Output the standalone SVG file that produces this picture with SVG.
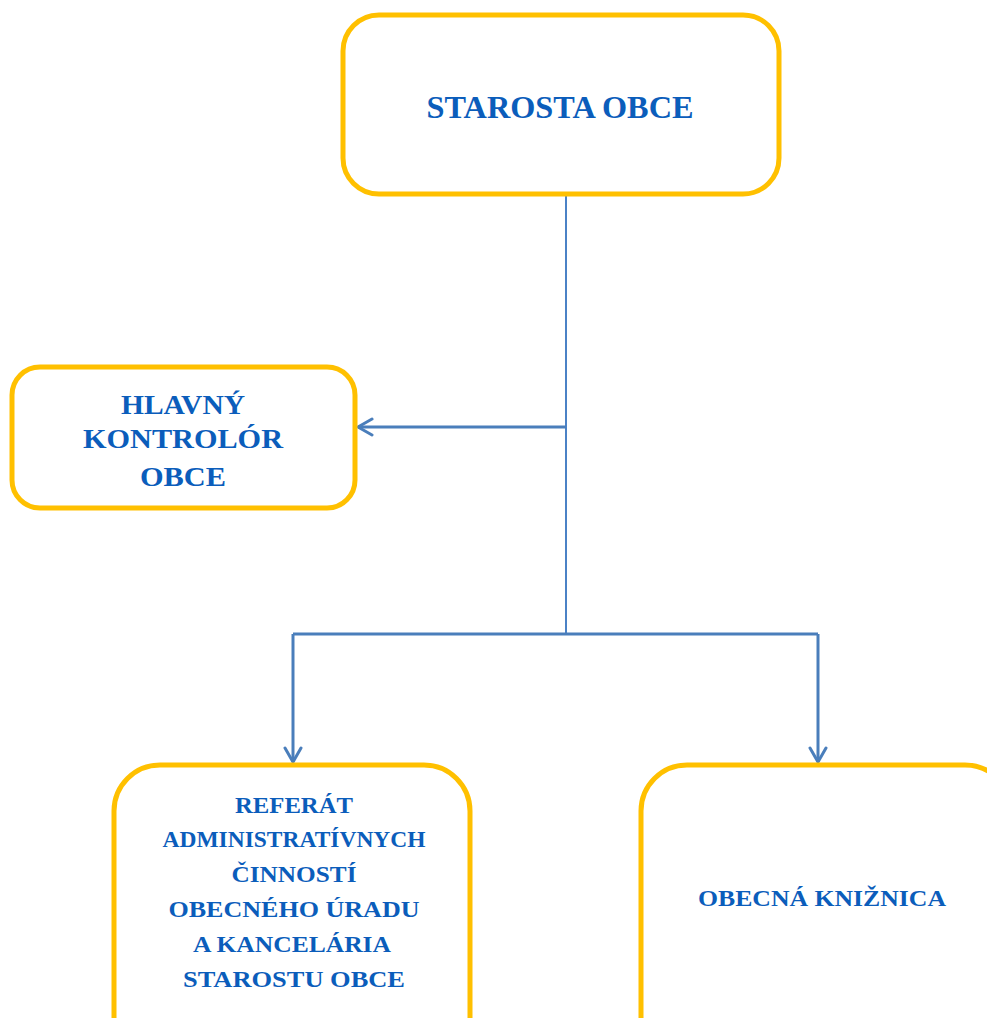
<svg xmlns="http://www.w3.org/2000/svg" width="987" height="1018" viewBox="0 0 987 1018">
<style>
.box{fill:#fff;stroke:#FFC000;stroke-width:5}
.t{font-family:"Liberation Serif","Times New Roman",serif;font-weight:bold;fill:#0B5DBB;text-anchor:middle}
.ln{fill:none;stroke:#4A7EBB;stroke-width:3}
.thin{fill:none;stroke:#1E63B8;stroke-width:1.6}
</style>
<defs>
<marker id="ah" markerWidth="20" markerHeight="20" viewBox="0 0 20 20" refX="17" refY="10" orient="auto" markerUnits="userSpaceOnUse">
<path d="M3,2 L17,10 L3,18" fill="none" stroke="#4A7EBB" stroke-width="3" stroke-linecap="round" stroke-linejoin="round"/>
</marker>
</defs>
<rect width="987" height="1018" fill="#fff"/>
<g id="connectors">
<line class="thin" x1="566" y1="194" x2="566" y2="634"/>
<line class="ln" x1="566" y1="427" x2="358" y2="427" marker-end="url(#ah)"/>
<line class="ln" x1="293" y1="634" x2="818" y2="634"/>
<line class="ln" x1="293" y1="634" x2="293" y2="762" marker-end="url(#ah)"/>
<line class="ln" x1="818" y1="634" x2="818" y2="762" marker-end="url(#ah)"/>
</g>
<g id="starosta">
<rect class="box" x="343" y="15" width="436" height="179" rx="36"/>
<text class="t" x="560" y="118" font-size="32" textLength="267" lengthAdjust="spacingAndGlyphs">STAROSTA OBCE</text>
</g>
<g id="kontrolor">
<rect class="box" x="12" y="367" width="343" height="141" rx="28"/>
<text class="t" x="183" y="414" font-size="27" textLength="124" lengthAdjust="spacingAndGlyphs">HLAVNÝ</text>
<text class="t" x="183" y="448" font-size="27" textLength="200" lengthAdjust="spacingAndGlyphs">KONTROLÓR</text>
<text class="t" x="183" y="486" font-size="27" textLength="86" lengthAdjust="spacingAndGlyphs">OBCE</text>
</g>
<g id="referat">
<rect class="box" x="114" y="765" width="356" height="300" rx="46"/>
<text class="t" x="294" y="813" font-size="24" textLength="118" lengthAdjust="spacingAndGlyphs">REFERÁT</text>
<text class="t" x="294" y="847" font-size="24" textLength="263" lengthAdjust="spacingAndGlyphs">ADMINISTRATÍVNYCH</text>
<text class="t" x="294" y="882" font-size="24" textLength="125" lengthAdjust="spacingAndGlyphs">ČINNOSTÍ</text>
<text class="t" x="294" y="917" font-size="24" textLength="251" lengthAdjust="spacingAndGlyphs">OBECNÉHO  ÚRADU</text>
<text class="t" x="292" y="952" font-size="24" textLength="198" lengthAdjust="spacingAndGlyphs">A KANCELÁRIA</text>
<text class="t" x="294" y="987" font-size="24" textLength="222" lengthAdjust="spacingAndGlyphs">STAROSTU  OBCE</text>
</g>
<g id="kniznica">
<rect class="box" x="641" y="765" width="370" height="300" rx="46"/>
<text class="t" x="822" y="906" font-size="24" textLength="248" lengthAdjust="spacingAndGlyphs">OBECNÁ  KNIŽNICA</text>
</g>
</svg>
